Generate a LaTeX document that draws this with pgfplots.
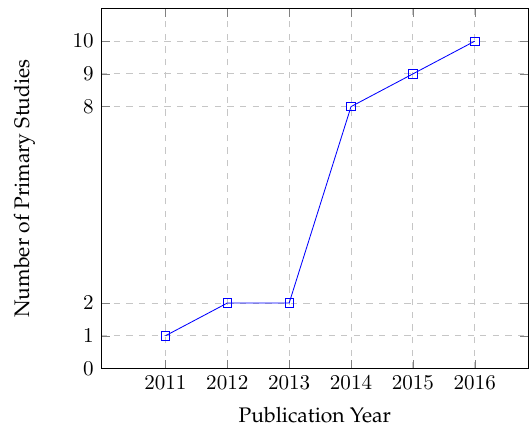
\documentclass[border=0pt]{standalone}
\usepackage[T1]{fontenc}
\usepackage{palatino}
\usepackage{pgfplots}
\pgfplotsset{compat=1.18}
\begin{document}
\begin{tikzpicture}
\begin{axis}[
  scale only axis,
  width=203pt, height=171pt,
  xmin=2009.96, xmax=2016.87,
  ymin=0, ymax=11,
  xtick={2011,2012,2013,2014,2015,2016},
  ytick={0,1,2,8,9,10},
  xticklabel style={/pgf/number format/1000 sep={}},
  grid=major,
  grid style={dashed, gray!45},
  xlabel={Publication Year},
  ylabel={Number of Primary Studies},
  ylabel style={yshift=11pt},
  xlabel style={yshift=-1.5pt},
]
\addplot[blue, mark=square, mark options={solid}] coordinates {
(2011,1) (2012,2) (2013,2) (2014,8) (2015,9) (2016,10)
};
\end{axis}
\path ([xshift=-48pt, yshift=4pt]current axis.north west);
\end{tikzpicture}
\end{document}
